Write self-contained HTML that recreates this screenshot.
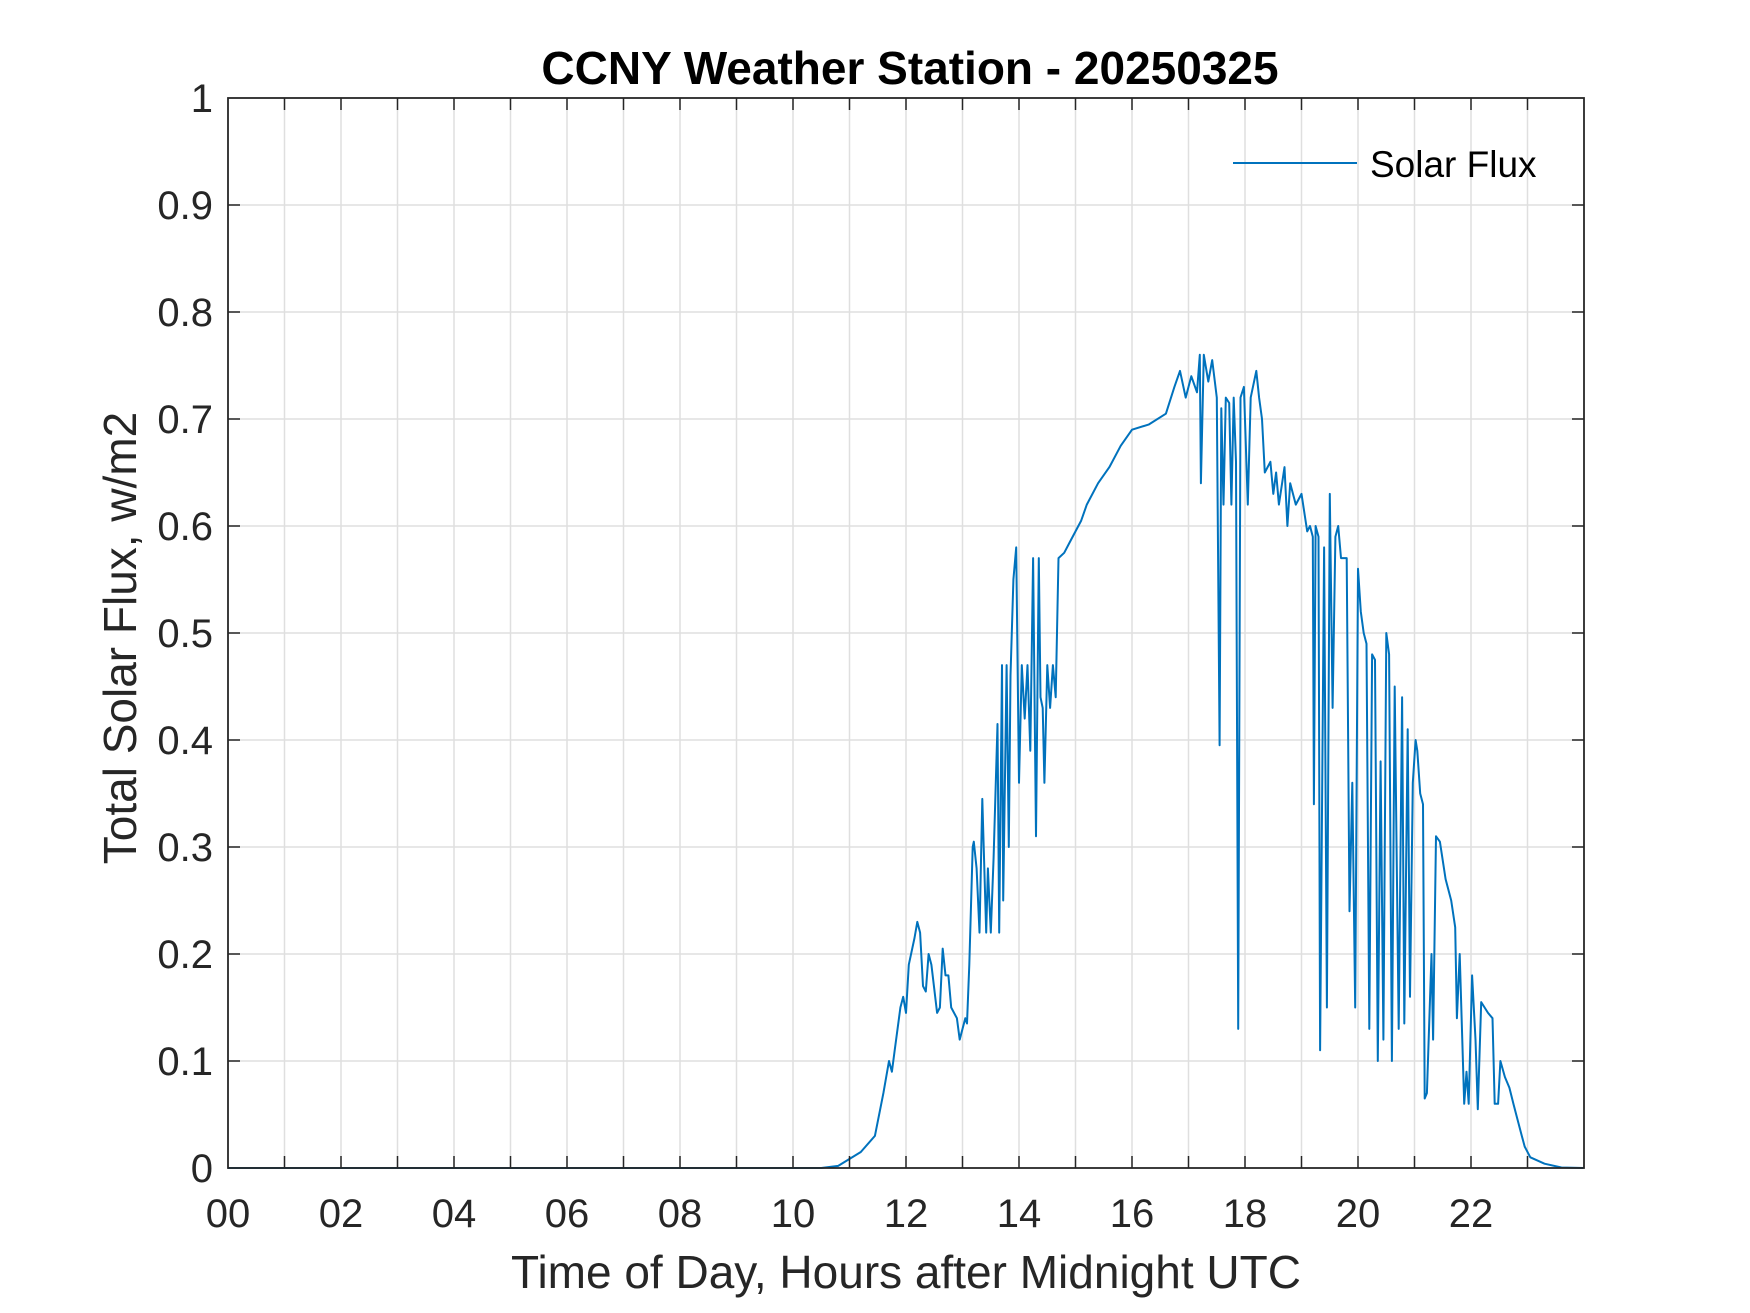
<!DOCTYPE html>
<html><head><meta charset="utf-8">
<style>
html,body{margin:0;padding:0;background:#fff;}
svg{display:block;font-family:"Liberation Sans",Arial,sans-serif;}
</style></head>
<body>
<svg id="chart" width="1750" height="1313" viewBox="0 0 1750 1313" xmlns="http://www.w3.org/2000/svg">
<rect width="1750" height="1313" fill="#fff"/>
<g id="grid"></g>
<g id="series"></g>
<g id="axes"></g>
<text x="910" y="84" text-anchor="middle" font-size="46" font-weight="bold" fill="#000">CCNY Weather Station - 20250325</text>
<text x="906" y="1288" text-anchor="middle" font-size="46" fill="#262626">Time of Day, Hours after Midnight UTC</text>
<text transform="translate(136,638) rotate(-90)" text-anchor="middle" font-size="46" fill="#262626">Total Solar Flux, w/m2</text>
<g>
<line x1="1233" y1="163" x2="1357" y2="163" stroke="#0072BD" stroke-width="2"/>
<text x="1370" y="177" font-size="37" fill="#000">Solar Flux</text>
</g>
</svg>
<script>
const hours = [0,10.5,10.8,11.2,11.45,11.6,11.7,11.75,11.8,11.9,11.95,12.0,12.05,12.15,12.2,12.25,12.3,12.35,12.4,12.45,12.55,12.6,12.65,12.7,12.75,12.8,12.9,12.95,13.05,13.08,13.12,13.18,13.2,13.25,13.3,13.35,13.42,13.45,13.5,13.55,13.62,13.65,13.7,13.72,13.78,13.82,13.85,13.9,13.95,14.0,14.05,14.1,14.15,14.2,14.25,14.3,14.35,14.38,14.42,14.45,14.5,14.55,14.6,14.65,14.7,14.8,14.9,15.0,15.1,15.2,15.4,15.6,15.8,16.0,16.3,16.6,16.75,16.85,16.95,17.05,17.15,17.2,17.22,17.27,17.35,17.42,17.5,17.55,17.58,17.62,17.66,17.72,17.76,17.8,17.84,17.88,17.92,17.98,18.05,18.1,18.2,18.25,18.3,18.35,18.45,18.5,18.55,18.6,18.7,18.75,18.8,18.9,19.0,19.1,19.15,19.2,19.22,19.25,19.3,19.33,19.4,19.45,19.5,19.55,19.6,19.65,19.7,19.8,19.85,19.9,19.95,20.0,20.05,20.1,20.15,20.2,20.25,20.3,20.35,20.4,20.45,20.5,20.55,20.6,20.65,20.72,20.78,20.82,20.88,20.92,20.97,21.02,21.05,21.1,21.15,21.18,21.22,21.3,21.33,21.38,21.45,21.55,21.65,21.72,21.75,21.8,21.88,21.92,21.96,22.02,22.08,22.12,22.18,22.3,22.38,22.42,22.48,22.52,22.6,22.68,22.75,22.8,22.9,22.95,23.05,23.3,23.6,23.99];
const flux = [0,0,0.002,0.015,0.03,0.07,0.1,0.09,0.11,0.15,0.16,0.145,0.19,0.215,0.23,0.22,0.17,0.165,0.2,0.19,0.145,0.15,0.205,0.18,0.18,0.15,0.14,0.12,0.14,0.135,0.19,0.3,0.305,0.28,0.22,0.345,0.22,0.28,0.22,0.29,0.415,0.22,0.47,0.25,0.47,0.3,0.46,0.55,0.58,0.36,0.47,0.42,0.47,0.39,0.57,0.31,0.57,0.44,0.43,0.36,0.47,0.43,0.47,0.44,0.57,0.575,0.585,0.595,0.605,0.62,0.64,0.655,0.675,0.69,0.695,0.705,0.73,0.745,0.72,0.74,0.725,0.76,0.64,0.76,0.735,0.755,0.72,0.395,0.71,0.62,0.72,0.715,0.62,0.72,0.66,0.13,0.72,0.73,0.62,0.72,0.745,0.72,0.7,0.65,0.66,0.63,0.65,0.62,0.655,0.6,0.64,0.62,0.63,0.595,0.6,0.59,0.34,0.6,0.59,0.11,0.58,0.15,0.63,0.43,0.59,0.6,0.57,0.57,0.24,0.36,0.15,0.56,0.52,0.5,0.49,0.13,0.48,0.475,0.1,0.38,0.12,0.5,0.48,0.1,0.45,0.13,0.44,0.135,0.41,0.16,0.36,0.4,0.39,0.35,0.34,0.065,0.07,0.2,0.12,0.31,0.305,0.27,0.25,0.225,0.14,0.2,0.06,0.09,0.06,0.18,0.12,0.055,0.155,0.145,0.14,0.06,0.06,0.1,0.085,0.075,0.06,0.05,0.03,0.02,0.01,0.004,0.0005,0];
const xTicks = [0,2,4,6,8,10,12,14,16,18,20,22];
const xTickLabels = ["00","02","04","06","08","10","12","14","16","18","20","22"];
const yTicks = [0,0.1,0.2,0.3,0.4,0.5,0.6,0.7,0.8,0.9,1];
const yTickLabels = ["0","0.1","0.2","0.3","0.4","0.5","0.6","0.7","0.8","0.9","1"];

const L=228, R=1584, T=98, B=1168, XMAX=24;
const xs = h => L + h/XMAX*(R-L);
const ys = v => B - v*(B-T);
const NS="http://www.w3.org/2000/svg";
function mk(tag, attrs, parent){const e=document.createElementNS(NS,tag);for(const k in attrs)e.setAttribute(k,attrs[k]);parent.appendChild(e);return e;}
const grid=document.getElementById('grid'), axes=document.getElementById('axes'), series=document.getElementById('series');
for(let h=1;h<24;h++){
  const g=mk('line',{x1:xs(h),x2:xs(h),y1:T,y2:B,stroke:'#dfdfdf','stroke-width':1.5},grid);
  
  
  const t1=mk('line',{x1:xs(h),x2:xs(h),y1:B,y2:B-12,stroke:'#262626','stroke-width':1.5},axes);
  
  
  const t2=mk('line',{x1:xs(h),x2:xs(h),y1:T,y2:T+12,stroke:'#262626','stroke-width':1.5},axes);
  
  
}
yTicks.forEach((v,i)=>{
  if(v>0&&v<1){
    const g=mk('line',{x1:L,x2:R,y1:ys(v),y2:ys(v),stroke:'#dfdfdf','stroke-width':1.5},grid);
    
    
    const t1=mk('line',{x1:L,x2:L+12,y1:ys(v),y2:ys(v),stroke:'#262626','stroke-width':1.5},axes);
    
    
    const t2=mk('line',{x1:R,x2:R-12,y1:ys(v),y2:ys(v),stroke:'#262626','stroke-width':1.5},axes);
    
    
  }
  const lb=mk('text',{x:L-15,y:ys(v)+14,'text-anchor':'end','font-size':40,fill:'#262626'},axes);
  lb.textContent=yTickLabels[i];
  
  
});
xTicks.forEach((h,i)=>{
  const lb=mk('text',{x:xs(h),y:1227,'text-anchor':'middle','font-size':40,fill:'#262626'},axes);
  lb.textContent=xTickLabels[i];
  
  
});
const pts=hours.map((h,i)=>xs(h).toFixed(1)+','+ys(flux[i]).toFixed(1)).join(' ');
const pl=mk('polyline',{points:pts,fill:'none',stroke:'#0072BD','stroke-width':2,'stroke-linejoin':'round'},series);


const box=mk('rect',{x:L,y:T,width:R-L,height:B-T,fill:'none',stroke:'#262626','stroke-width':1.8},axes);


</script>
</body></html>
